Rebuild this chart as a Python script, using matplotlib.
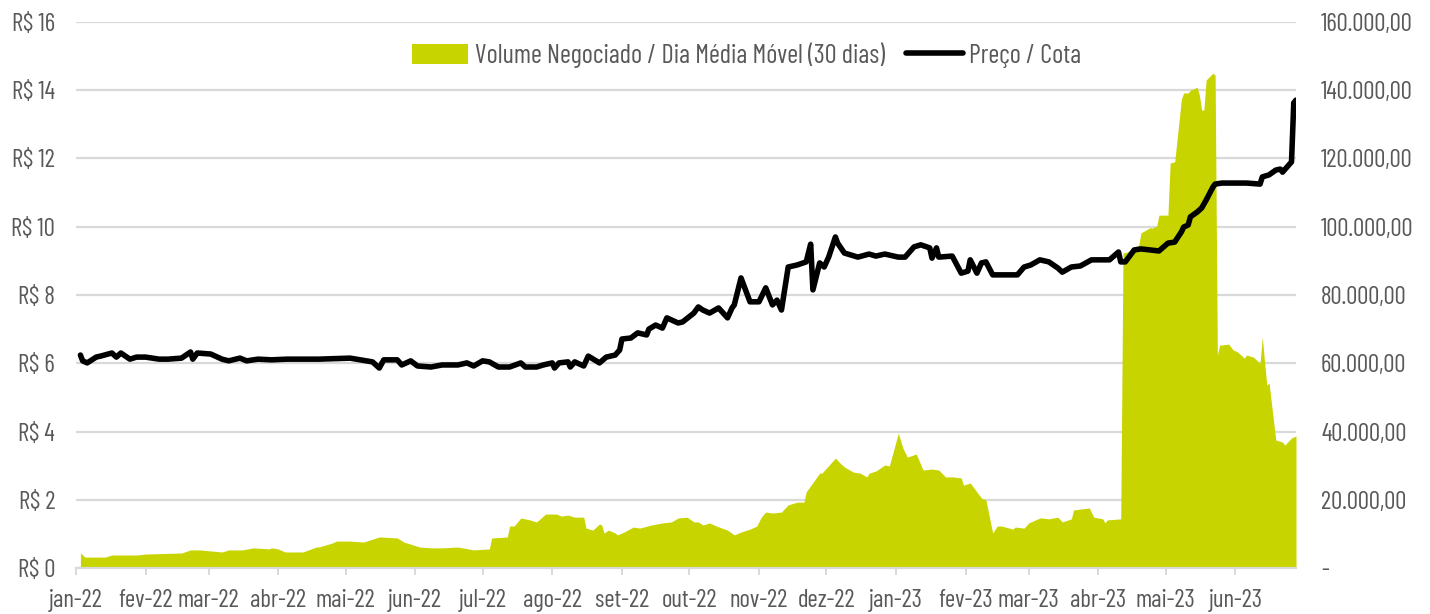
import numpy as np
import pandas as pd
import matplotlib
matplotlib.use("Agg")
import matplotlib.pyplot as plt
import matplotlib.ticker as mticker
from matplotlib.patches import Patch
from matplotlib.lines import Line2D

# ---------------------------------------------------------
# DATA
# ---------------------------------------------------------
price_dates = [
    "2022-01-03", "2022-01-04", "2022-01-06", "2022-01-10", "2022-01-12", "2022-01-17",
    "2022-01-19", "2022-01-21", "2022-01-25", "2022-01-28", "2022-02-01", "2022-02-07",
    "2022-02-11", "2022-02-17", "2022-02-21", "2022-02-22", "2022-02-24", "2022-03-02",
    "2022-03-07", "2022-03-10", "2022-03-15", "2022-03-18", "2022-03-23", "2022-03-29",
    "2022-04-05", "2022-04-12", "2022-04-19", "2022-05-03", "2022-05-13", "2022-05-16",
    "2022-05-18", "2022-05-24", "2022-05-26", "2022-05-30", "2022-06-02", "2022-06-08",
    "2022-06-13", "2022-06-20", "2022-06-24", "2022-06-27", "2022-07-01", "2022-07-04",
    "2022-07-08", "2022-07-13", "2022-07-18", "2022-07-20", "2022-07-25", "2022-07-28",
    "2022-08-01", "2022-08-02", "2022-08-04", "2022-08-08", "2022-08-09", "2022-08-11",
    "2022-08-15", "2022-08-17", "2022-08-22", "2022-08-25", "2022-08-29", "2022-08-31",
    "2022-09-01", "2022-09-05", "2022-09-08", "2022-09-12", "2022-09-13", "2022-09-16",
    "2022-09-19", "2022-09-21", "2022-09-26", "2022-09-28", "2022-10-03", "2022-10-05",
    "2022-10-07", "2022-10-10", "2022-10-14", "2022-10-18", "2022-10-20", "2022-10-21",
    "2022-10-24", "2022-10-28", "2022-11-01", "2022-11-04", "2022-11-07", "2022-11-09",
    "2022-11-11", "2022-11-14", "2022-11-18", "2022-11-22", "2022-11-24", "2022-11-25",
    "2022-11-28", "2022-11-30", "2022-12-02", "2022-12-05", "2022-12-06", "2022-12-09",
    "2022-12-15", "2022-12-20", "2022-12-23", "2022-12-27", "2023-01-02", "2023-01-05",
    "2023-01-09", "2023-01-12", "2023-01-16", "2023-01-17", "2023-01-19", "2023-01-20",
    "2023-01-26", "2023-01-30", "2023-02-02", "2023-02-03", "2023-02-06", "2023-02-08",
    "2023-02-10", "2023-02-13", "2023-02-17", "2023-02-24", "2023-02-27", "2023-03-02",
    "2023-03-06", "2023-03-10", "2023-03-14", "2023-03-16", "2023-03-20", "2023-03-24",
    "2023-03-29", "2023-04-06", "2023-04-10", "2023-04-11", "2023-04-13", "2023-04-17",
    "2023-04-20", "2023-04-28", "2023-05-02", "2023-05-05", "2023-05-08", "2023-05-09",
    "2023-05-11", "2023-05-12", "2023-05-15", "2023-05-17", "2023-05-19", "2023-05-22",
    "2023-05-23", "2023-05-26", "2023-05-31", "2023-06-06", "2023-06-12", "2023-06-13",
    "2023-06-16", "2023-06-19", "2023-06-21", "2023-06-22", "2023-06-26", "2023-06-27",
    "2023-06-28",
]
price_values = [
    6.24, 6.07, 6.01, 6.18, 6.21, 6.30,
    6.18, 6.30, 6.12, 6.18, 6.18, 6.12,
    6.12, 6.15, 6.33, 6.12, 6.30, 6.27,
    6.12, 6.07, 6.15, 6.07, 6.12, 6.10,
    6.12, 6.12, 6.12, 6.15, 6.04, 5.86,
    6.10, 6.10, 5.95, 6.07, 5.92, 5.89,
    5.95, 5.95, 6.01, 5.92, 6.07, 6.04,
    5.89, 5.89, 6.01, 5.89, 5.89, 5.95,
    6.01, 5.86, 6.01, 6.04, 5.89, 6.04,
    5.92, 6.21, 6.01, 6.18, 6.24, 6.39,
    6.71, 6.74, 6.89, 6.83, 7.00, 7.12,
    7.03, 7.33, 7.18, 7.21, 7.47, 7.65,
    7.56, 7.47, 7.62, 7.33, 7.62, 7.71,
    8.50, 7.80, 7.80, 8.21, 7.71, 7.85,
    7.56, 8.82, 8.88, 8.97, 9.49, 8.15,
    8.94, 8.82, 9.11, 9.70, 9.52, 9.23,
    9.11, 9.20, 9.14, 9.20, 9.11, 9.11,
    9.41, 9.47, 9.38, 9.08, 9.38, 9.11,
    9.14, 8.64, 8.70, 9.03, 8.64, 8.94,
    8.97, 8.59, 8.59, 8.59, 8.82, 8.88,
    9.03, 8.97, 8.79, 8.67, 8.82, 8.85,
    9.03, 9.03, 9.26, 8.97, 8.97, 9.32,
    9.35, 9.29, 9.52, 9.55, 9.85, 9.99,
    10.05, 10.29, 10.43, 10.55, 10.78, 11.16,
    11.25, 11.28, 11.28, 11.28, 11.25, 11.46,
    11.52, 11.66, 11.69, 11.60, 11.90, 13.63,
    13.71,
]

volume_dates = [
    "2022-01-03", "2022-01-05", "2022-01-14", "2022-01-17", "2022-01-28", "2022-02-01",
    "2022-02-17", "2022-02-21", "2022-02-25", "2022-03-07", "2022-03-10", "2022-03-16",
    "2022-03-21", "2022-03-28", "2022-03-29", "2022-04-01", "2022-04-04", "2022-04-12",
    "2022-04-18", "2022-04-19", "2022-04-25", "2022-04-27", "2022-05-03", "2022-05-09",
    "2022-05-16", "2022-05-24", "2022-05-27", "2022-06-03", "2022-06-08", "2022-06-13",
    "2022-06-20", "2022-06-27", "2022-07-04", "2022-07-05", "2022-07-12", "2022-07-13",
    "2022-07-15", "2022-07-18", "2022-07-22", "2022-07-25", "2022-07-29", "2022-08-03",
    "2022-08-05", "2022-08-08", "2022-08-11", "2022-08-15", "2022-08-16", "2022-08-19",
    "2022-08-22", "2022-08-23", "2022-08-24", "2022-08-26", "2022-08-29", "2022-08-30",
    "2022-09-02", "2022-09-06", "2022-09-09", "2022-09-14", "2022-09-19", "2022-09-23",
    "2022-09-26", "2022-09-30", "2022-10-03", "2022-10-05", "2022-10-07", "2022-10-10",
    "2022-10-13", "2022-10-18", "2022-10-21", "2022-10-24", "2022-10-28", "2022-10-31",
    "2022-11-02", "2022-11-04", "2022-11-07", "2022-11-11", "2022-11-14", "2022-11-18",
    "2022-11-21", "2022-11-22", "2022-11-28", "2022-11-29", "2022-12-05", "2022-12-07",
    "2022-12-09", "2022-12-13", "2022-12-16", "2022-12-19", "2022-12-20", "2022-12-23",
    "2022-12-27", "2022-12-29", "2023-01-02", "2023-01-04", "2023-01-06", "2023-01-10",
    "2023-01-13", "2023-01-17", "2023-01-20", "2023-01-23", "2023-01-26", "2023-01-30",
    "2023-01-31", "2023-02-03", "2023-02-08", "2023-02-10", "2023-02-13", "2023-02-15",
    "2023-02-17", "2023-02-22", "2023-02-23", "2023-02-27", "2023-03-01", "2023-03-06",
    "2023-03-07", "2023-03-10", "2023-03-14", "2023-03-16", "2023-03-20", "2023-03-21",
    "2023-03-28", "2023-03-30", "2023-04-03", "2023-04-04", "2023-04-05", "2023-04-11",
    "2023-04-12", "2023-04-14", "2023-04-19", "2023-04-20", "2023-04-24", "2023-04-25",
    "2023-04-27", "2023-04-28", "2023-05-02", "2023-05-03", "2023-05-05", "2023-05-08",
    "2023-05-09", "2023-05-11", "2023-05-12", "2023-05-15", "2023-05-16", "2023-05-17",
    "2023-05-18", "2023-05-19", "2023-05-22", "2023-05-23", "2023-05-24", "2023-05-25",
    "2023-05-29", "2023-05-31", "2023-06-02", "2023-06-05", "2023-06-06", "2023-06-09",
    "2023-06-12", "2023-06-13", "2023-06-14", "2023-06-15", "2023-06-16", "2023-06-19",
    "2023-06-22", "2023-06-23", "2023-06-26", "2023-06-28",
]
volume_values = [
    4400, 3200, 3200, 3800, 3800, 4100,
    4400, 5300, 5300, 4700, 5300, 5300,
    5900, 5600, 5900, 5600, 4700, 4700,
    6150, 6150, 7300, 7900, 7900, 7600,
    9100, 8800, 7600, 6150, 5900, 5900,
    6150, 5300, 5600, 8800, 9100, 12300,
    12300, 14650, 14100, 13500, 15800, 15800,
    15200, 15500, 14900, 14900, 11700, 11100,
    12900, 12600, 10250, 11100, 10250, 9700,
    10550, 12000, 11700, 12600, 13200, 13500,
    14650, 14900, 13500, 13500, 12600, 13200,
    12300, 11100, 9700, 10550, 11400, 12300,
    14900, 16400, 16100, 16400, 18500, 19300,
    19300, 22300, 27800, 27800, 32200, 30800,
    29600, 28100, 27800, 26700, 27800, 28400,
    30200, 29900, 39500, 35200, 32500, 33400,
    28700, 29000, 28700, 26700, 26700, 26400,
    24300, 24900, 20500, 19900, 10250, 12300,
    12300, 11400, 12000, 11700, 13200, 14650,
    14650, 14400, 14900, 13500, 14400, 17000,
    17600, 14900, 14400, 13200, 14100, 14400,
    92300, 92600, 94600, 98200, 99700, 99600,
    100200, 103400, 103400, 118700, 119000, 137400,
    139200, 139200, 140000, 140900, 138600, 134200,
    134200, 143000, 145000, 144400, 62400, 65300,
    65600, 63900, 63300, 61500, 62400, 61800,
    60000, 67700, 60400, 53600, 54200, 37500,
    36900, 36000, 38100, 38700,
]

month_labels = ["jan-22", "fev-22", "mar-22", "abr-22", "mai-22", "jun-22",
                "jul-22", "ago-22", "set-22", "out-22", "nov-22", "dez-22",
                "jan-23", "fev-23", "mar-23", "abr-23", "mai-23", "jun-23"]

price_ticks = [0, 2, 4, 6, 8, 10, 12, 14, 16]
volume_ticks = [0, 20000, 40000, 60000, 80000, 100000, 120000, 140000, 160000]

price_dates = pd.to_datetime(price_dates)
volume_dates = pd.to_datetime(volume_dates)
month_starts = pd.date_range("2022-01-01", periods=len(month_labels), freq="MS")

# ---------------------------------------------------------
# STYLE
# ---------------------------------------------------------
plt.rcParams['font.family'] = ['Barlow Condensed', 'DejaVu Sans']
plt.rcParams['font.weight'] = 'normal'
text_color = '#595959'
grid_color = '#d9d9d9'
green = '#c8d400'
fs = 18

fig = plt.figure(figsize=(14.3, 6.14), dpi=100)
ax = fig.add_axes([0.0531, 0.0749, 0.8532, 0.8893])   # price (left)
ax2 = ax.twinx()                                        # volume (right)

# volume behind, price on top
ax.set_zorder(ax2.get_zorder() + 1)
ax.patch.set_visible(False)

ax2.fill_between(volume_dates, volume_values, 0, color=green, linewidth=0, zorder=2)
ax.plot(price_dates, price_values, color='black', linewidth=4.0,
        solid_joinstyle='round', solid_capstyle='round', zorder=3)

ax.set_xlim(pd.Timestamp("2022-01-01"), pd.Timestamp("2023-06-28"))
ax.set_ylim(0, 16)
ax2.set_ylim(0, 160000)

# grid on the lower (volume) axis so the area covers it
ax2.set_yticks(volume_ticks)
ax2.yaxis.grid(True, color=grid_color, linewidth=1.6, zorder=0)
ax2.set_axisbelow(True)

ax.set_yticks(price_ticks)
ax.set_yticklabels([f"R$ {v}" for v in price_ticks])


def fmt_br(v, pos):
    if v == 0:
        return "-"
    s = f"{v:,.2f}"
    return s.replace(",", "X").replace(".", ",").replace("X", ".")


ax2.yaxis.set_major_formatter(mticker.FuncFormatter(fmt_br))

ax.set_xticks(month_starts)
ax.set_xticklabels(month_labels)

for a in (ax, ax2):
    for side in ['top', 'left', 'right', 'bottom']:
        a.spines[side].set_visible(False)

ax.spines['bottom'].set_visible(True)
ax.spines['bottom'].set_color(grid_color)
ax.spines['bottom'].set_linewidth(1.6)

ax.tick_params(axis='y', length=0, pad=15, labelsize=fs, labelcolor=text_color)
ax2.tick_params(axis='y', length=0, pad=18, labelsize=fs, labelcolor=text_color)
ax.tick_params(axis='x', length=5, width=1.4, color=grid_color, pad=10,
               labelsize=fs, labelcolor=text_color)

# legend
handles = [Patch(facecolor=green, edgecolor='none'),
           Line2D([0], [0], color='black', linewidth=4.0, solid_capstyle='round')]
labels = ["Volume Negociado / Dia Média Móvel (30 dias)", "Preço / Cota"]
fig.legend(handles, labels, loc='center', bbox_to_anchor=(0.522, 0.91), ncol=2,
           frameon=False, fontsize=19, labelcolor=text_color,
           handlelength=2.15, handleheight=0.8, handletextpad=0.25, columnspacing=0.8)

fig.savefig("out.png", dpi=100)
